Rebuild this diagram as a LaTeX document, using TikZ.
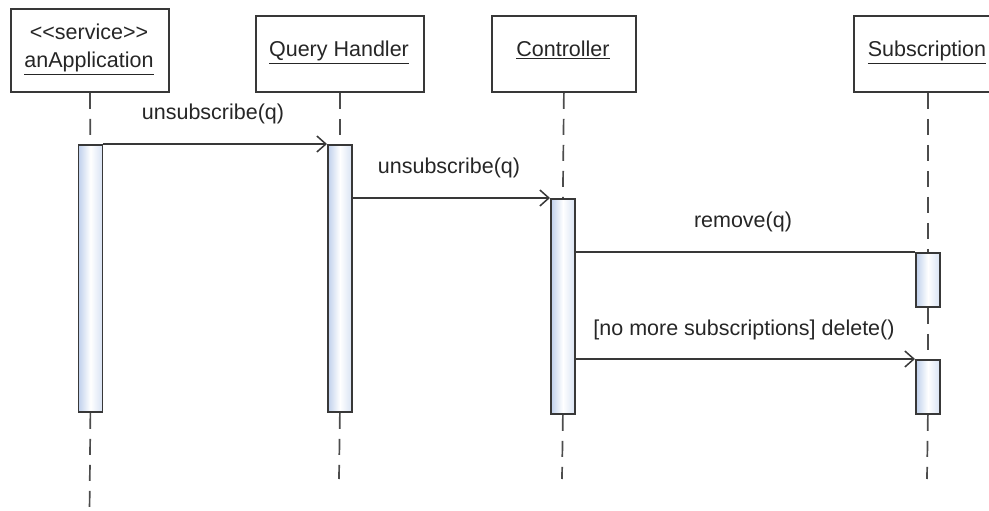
\documentclass[tikz,border=0pt]{standalone}
\usepackage{fontspec}
\setmainfont{Liberation Sans}
\usetikzlibrary{arrows.meta}
\definecolor{ink}{HTML}{383838}
\definecolor{txt}{HTML}{262626}
\definecolor{barblue}{HTML}{BFD0EC}
\tikzset{
  objbox/.style={draw=ink, line width=1.8pt, fill=white, rectangle, inner sep=0pt, anchor=north west},
  actbar/.style={draw=ink, line width=1.8pt, left color=barblue, right color=barblue!60, middle color=white, rectangle, inner sep=0pt, anchor=north west, minimum width=24pt},
  lifeline/.style={draw=ink!90, line width=1.7pt, dash pattern=on 16pt off 10pt},
  msg/.style={draw=ink, line width=1.5pt},
  call/.style={msg, -{Straight Barb[length=9pt, width=16pt, line width=1.5pt]}},
  lbl/.style={text=txt, anchor=base, inner sep=0pt, font=\fontsize{21.5}{25}\selectfont},
}
\begin{document}
\begin{tikzpicture}[x=1pt, y=-1pt]
\useasboundingbox (0,0) rectangle (989,511);
\begin{scope}
\clip (0,0) rectangle (989,511);
% object boxes
\node[objbox, minimum width=158pt, minimum height=83pt] (app) at (10,8) {};
\node[objbox, minimum width=168pt, minimum height=76pt] (qh) at (255,15) {};
\node[objbox, minimum width=144pt, minimum height=76pt] (ctrl) at (491,15) {};
\node[objbox, minimum width=148pt, minimum height=76pt] (sub) at (853,15) {};
% box texts
\node[lbl] (appst) at (89,40) {\mbox{<}\mbox{<}service\mbox{>}\mbox{>}};
\node[lbl] (appname) at (89,68) {\underline{anApplication}};
\node[lbl] (qhname) at (339,57) {\underline{Query Handler}};
\node[lbl] (ctrlname) at (563,57) {\underline{Controller}};
\node[lbl] (subname) at (927,57) {\underline{Subscription}};
% activation bars
\node[actbar, minimum height=267pt] (appbar) at (77.5,144) {};
\node[actbar, minimum height=267pt] (qhbar) at (327,144) {};
\node[actbar, minimum height=215pt] (ctrlbar) at (550,198) {};
\node[actbar, minimum height=54pt] (subbar1) at (915,252) {};
\node[actbar, minimum height=54pt] (subbar2) at (915,359) {};
% lifeline ends
\coordinate (append) at (89.5,515);
\coordinate (qhend) at (339,479);
\coordinate (ctrlend) at (562,479);
\coordinate (subend) at (927,479);
% lifelines
\draw[lifeline] (app.south) -- (appbar.north);
\draw[lifeline] (appbar.south) -- (append);
\draw[lifeline] (qh.south) -- (qhbar.north);
\draw[lifeline] (qhbar.south) -- (qhend);
\draw[lifeline] (ctrl.south) -- (ctrlbar.north);
\draw[lifeline] (ctrlbar.south) -- (ctrlend);
\draw[lifeline] (sub.south) -- (subbar1.north);
\draw[lifeline] (subbar1.south) -- (subbar2.north);
\draw[lifeline] (subbar2.south) -- (subend);
% redraw bars on top
\node[actbar, minimum height=267pt] at (77.5,144) {};
\node[actbar, minimum height=267pt] at (327,144) {};
\node[actbar, minimum height=215pt] at (550,198) {};
\node[actbar, minimum height=54pt] at (915,252) {};
\node[actbar, minimum height=54pt] at (915,359) {};
% messages
\draw[call] (appbar.north east) -- (qhbar.north west);
\draw[call] (qhbar.east |- ctrlbar.north) -- (ctrlbar.north west);
\draw[msg] (ctrlbar.east |- subbar1.north) -- (subbar1.north west);
\draw[call] (ctrlbar.east |- subbar2.north) -- (subbar2.north west);
% message labels
\node[lbl] (m1) at (213,120) {unsubscribe(q)};
\node[lbl] (m2) at (449,173) {unsubscribe(q)};
\node[lbl] (m3) at (743,227) {remove(q)};
\node[lbl] (m4) at (744,335) {[no more subscriptions] delete()};
\end{scope}
\end{tikzpicture}
\end{document}
